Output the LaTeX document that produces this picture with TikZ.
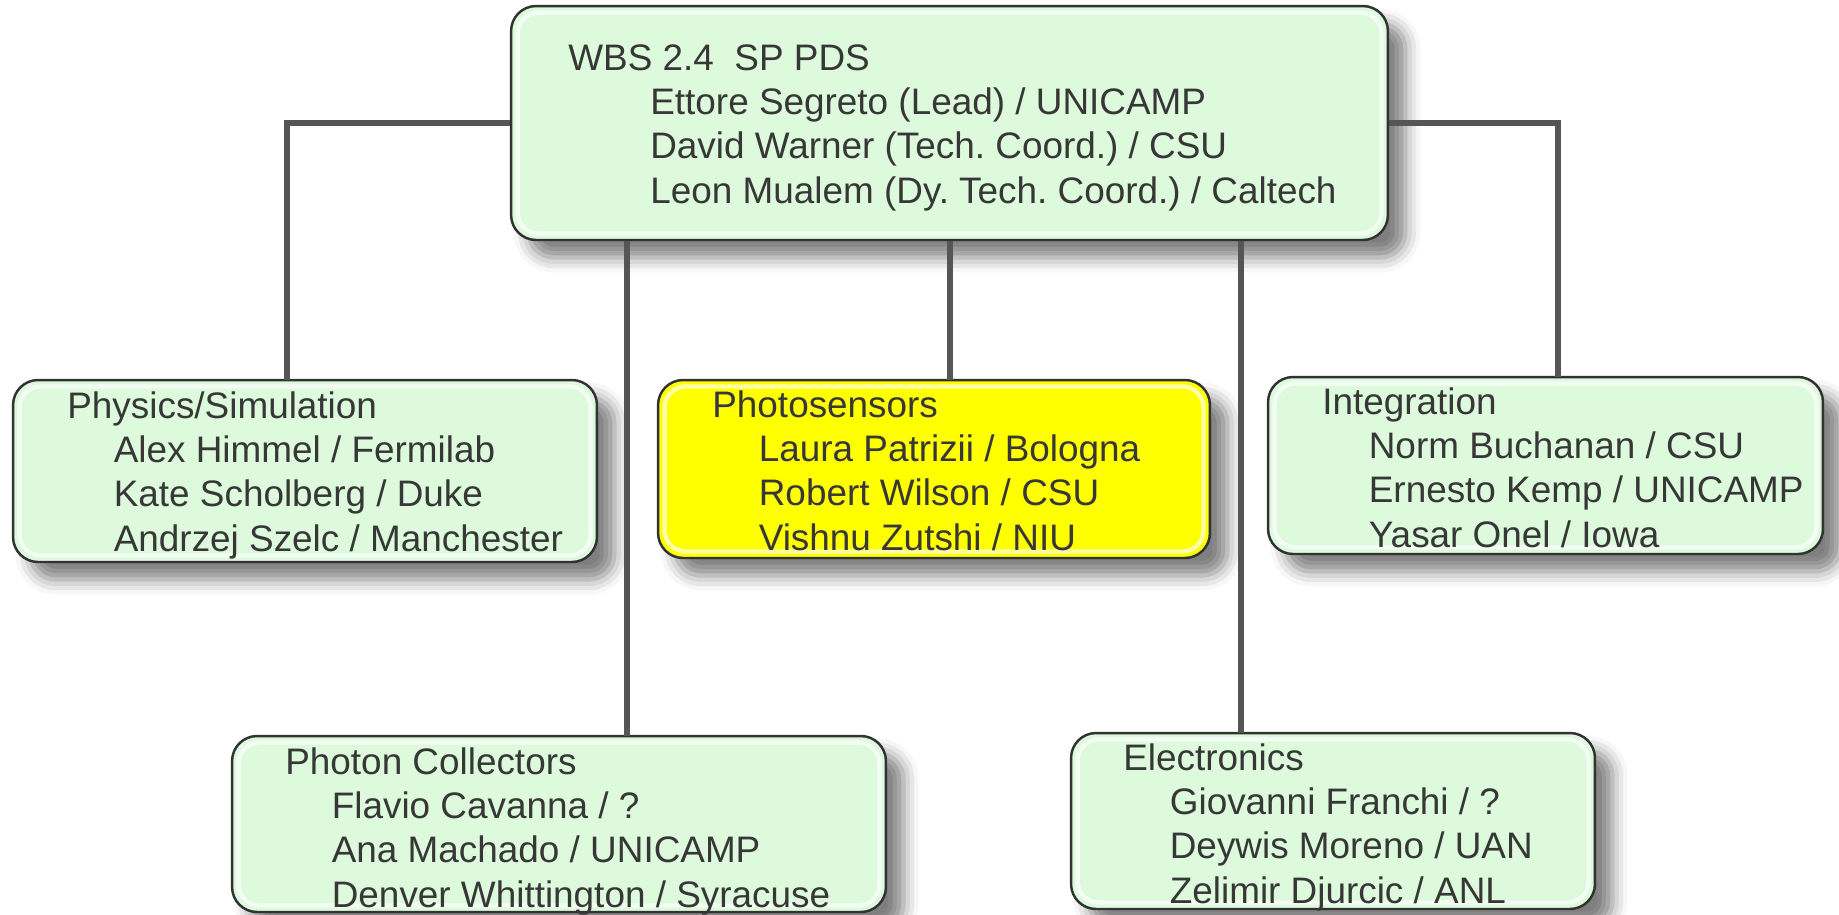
\documentclass[tikz,border=0pt]{standalone}
\usepackage{fontspec}
\setmainfont{Liberation Sans}
\usetikzlibrary{shadows.blur}

\definecolor{mint}{RGB}{221,250,221}
\definecolor{leadyellow}{RGB}{255,255,0}
\definecolor{boxline}{RGB}{50,50,50}
\definecolor{linkgray}{RGB}{85,85,85}
\definecolor{ink}{RGB}{55,55,55}

\newcommand{\rosterfont}{\fontsize{21pt}{25.3pt}\selectfont\frenchspacing}
\newcommand{\ind}{\hspace*{0.93cm}}

\tikzset{
  unit box/.style={draw=boxline, line width=1.4pt, rounded corners=0.5cm, fill=mint,
    inner sep=0pt,
    blur shadow={shadow xshift=0.35cm, shadow yshift=-0.35cm, shadow blur radius=0.3cm, shadow opacity=50},
    path picture={\draw[white, line width=2.5pt, opacity=0.65, rounded corners=0.42cm]
      ([shift={(0.13cm,-0.13cm)}]path picture bounding box.north west) rectangle
      ([shift={(-0.13cm,0.13cm)}]path picture bounding box.south east);}},
  lead box/.style={unit box, fill=leadyellow},
  roster/.style={anchor=base west, inner sep=0pt, text=ink, font=\rosterfont},
  link/.style={draw=linkgray, line width=2.9pt}
}

\begin{document}
\begin{tikzpicture}[x=0.02cm, y=-0.02cm]
  \useasboundingbox (0,0) rectangle (1839,914);

  % Boxes
  \node[unit box, minimum width=17.54cm, minimum height=4.68cm] (top) at (949.5,123) {};
  \node[unit box, minimum width=11.68cm, minimum height=3.64cm] (phys) at (305,471) {};
  \node[lead box, minimum width=11.04cm, minimum height=3.56cm] (photos) at (934,469) {};
  \node[unit box, minimum width=11.10cm, minimum height=3.54cm] (integ) at (1545.5,465.5) {};
  \node[unit box, minimum width=13.08cm, minimum height=3.52cm] (pcoll) at (559,824) {};
  \node[unit box, minimum width=10.48cm, minimum height=3.52cm] (elec) at (1333,821) {};

  % Where the links meet the boxes
  \coordinate (physTap) at (287,380);
  \coordinate (integTap) at (1558,377);
  \coordinate (pcollTap) at (627,736);
  \coordinate (photosTap) at (950,380);
  \coordinate (elecTap) at (1241,733);

  % Links
  \draw[link] (top.west) -| (physTap);
  \draw[link] (top.east) -| (integTap);
  \draw[link] (top.south -| pcollTap) -- (pcollTap);
  \draw[link] (top.south -| photosTap) -- (photosTap);
  \draw[link] (top.south -| elecTap) -- (elecTap);

  % Names
  \node[roster] (topTxt) at (568,70) {\begin{tabular}[t]{@{}l@{}}
    WBS 2.4\ \ SP PDS\\
    \hspace*{1.64cm}Ettore Segreto (Lead) / UNICAMP\\
    \hspace*{1.64cm}David Warner (Tech. Coord.) / CSU\\
    \hspace*{1.64cm}Leon Mualem (Dy. Tech. Coord.) / Caltech
  \end{tabular}};
  \node[roster] (physTxt) at (67,418) {\begin{tabular}[t]{@{}l@{}}
    Physics/Simulation\\
    \ind Alex Himmel / Fermilab\\
    \ind Kate Scholberg / Duke\\
    \ind Andrzej Szelc / Manchester
  \end{tabular}};
  \node[roster] (photosTxt) at (712,417) {\begin{tabular}[t]{@{}l@{}}
    Photosensors\\
    \ind Laura Patrizii / Bologna\\
    \ind Robert Wilson / CSU\\
    \ind Vishnu Zutshi / NIU
  \end{tabular}};
  \node[roster] (integTxt) at (1322,414) {\begin{tabular}[t]{@{}l@{}}
    Integration\\
    \ind Norm Buchanan / CSU\\
    \ind Ernesto Kemp / UNICAMP\\
    \ind Yasar Onel / Iowa
  \end{tabular}};
  \node[roster] (pcollTxt) at (285,774) {\begin{tabular}[t]{@{}l@{}}
    Photon Collectors\\
    \ind Flavio Cavanna / ?\\
    \ind Ana Machado / UNICAMP\\
    \ind Denver Whittington / Syracuse
  \end{tabular}};
  \node[roster] (elecTxt) at (1123,770) {\begin{tabular}[t]{@{}l@{}}
    Electronics\\
    \ind Giovanni Franchi / ?\\
    \ind Deywis Moreno / UAN\\
    \ind Zelimir Djurcic / ANL
  \end{tabular}};
\end{tikzpicture}
\end{document}
